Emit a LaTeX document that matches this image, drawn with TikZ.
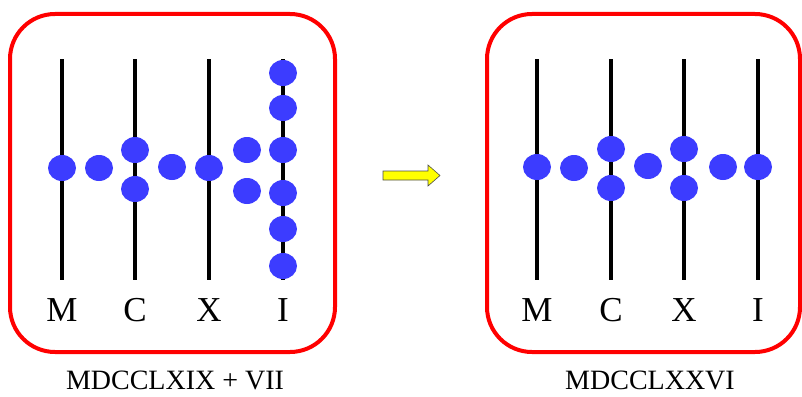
\documentclass[tikz,border=0pt]{standalone}
\usepackage{fontspec}
\setmainfont{Liberation Serif}
\definecolor{beadblue}{RGB}{60,60,255}
\definecolor{arrowyellow}{RGB}{255,255,0}
\begin{document}
\begin{tikzpicture}[x=1pt,y=-1pt,
  frame/.style={draw=red, line width=4pt, rounded corners=45pt},
  rod/.style={draw=black, line width=4pt},
  bead/.style={fill=beadblue},
  rodlabel/.style={font=\fontsize{35}{35}\selectfont, anchor=base, inner sep=0pt},
  caption/.style={font=\fontsize{28}{28}\selectfont, anchor=base, inner sep=0pt},
  blockarrow/.style={fill=arrowyellow, draw=black!70, line width=0.6pt, line join=miter}]
\useasboundingbox (0,0) rectangle (802,396);

% left abacus: MDCCLXIX + VII
\draw[frame] (10,14) rectangle (335,352);
\foreach \x/\t [count=\i] in {62/M,135/C,209/X,283/I} {
  \draw[rod] (\x,59) -- (\x,280);
  \node[rodlabel] (la\i) at (\x,321) {\t};
}
\foreach \x/\y in {62/168, 99/168, 135/150, 135/189, 172/167, 209/168,
                   247/150, 247/191,
                   283/73, 283/108, 283/150, 283/193, 283/229, 283/266}
  \fill[bead] (\x,\y) ellipse (14 and 13);
\node[caption] (capl) at (175,389) {MDCCLXIX + VII};

% arrow between the two frames
\draw[blockarrow] (383,171) -- (428,171) -- (428,165) -- (440,175.5)
  -- (428,186) -- (428,180) -- (383,180) -- cycle;

% right abacus: MDCCLXXVI
\draw[frame] (487,14) rectangle (800,352);
\foreach \x/\t [count=\i] in {537/M,611/C,684/X,758/I} {
  \draw[rod] (\x,59) -- (\x,280);
  \node[rodlabel] (ra\i) at (\x,321) {\t};
}
\foreach \x/\y in {537/167, 574/168, 611/149, 611/188, 648/166,
                   684/149, 684/188, 723/167, 758/167}
  \fill[bead] (\x,\y) ellipse (14 and 13);
\node[caption] (capr) at (650,389) {MDCCLXXVI};
\end{tikzpicture}
\end{document}
